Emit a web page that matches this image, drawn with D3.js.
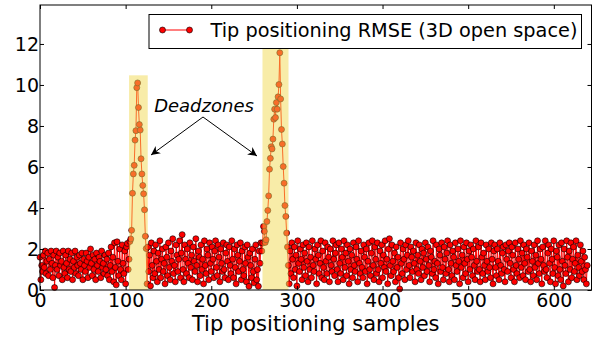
<!DOCTYPE html>
<html>
<head>
<meta charset="utf-8">
<script src="https://cdn.jsdelivr.net/npm/d3@7"></script>
<style>
  body { margin: 0; background: #fff; }
  svg text { font-family: "DejaVu Sans", sans-serif; fill: #000; }
</style>
</head>
<body>
<div id="chart"></div>
<script>
// RMSE samples, split by region
const noiseA = [1.6,0.5,1.2,0.9,1.7,1.1,1.9,0.8,1.4,1.8,0.7,1.5,1.0,1.9,1.3,0.6,1.7,0.12,1.2,1.9,
  1.0,1.6,0.7,1.8,1.2,1.4,0.5,1.9,1.1,0.8,1.7,1.3,0.6,1.9,1.0,1.5,0.9,1.8,0.5,1.4,
  1.1,1.9,0.8,1.6,1.2,0.7,1.7,1.3,1.0,1.8,0.5,1.5,1.2,0.9,1.8,1.4,0.6,1.6,1.1,2.0,
  1.3,0.7,1.7,1.0,1.5,0.5,1.8,1.2,0.9,1.6,1.4,0.6,1.9,1.1,1.3,0.8,1.7,1.0,1.5,0.7,
  1.8,0.5,1.2,2.1,0.9,1.6,0.4,2.3,1.1,0.25,2.35,1.4,0.7,2.0,1.0,0.5,2.2,1.3,0.8,1.9,0.3,2.1,2.27,1.0,1.5];
const dead1 = [2.37,2.49,2.91,4.72,5.66,6.08,7.31,7.77,9.87,10.1,8.9,8.07,7.8,6.4,5.66,5.1,4.69,3.91,2.62,2.02];
const noiseB = [0.3,2.1,0.9,1.7,0.2,2.3,1.2,0.6,1.9,0.8,2.2,1.4,0.4,1.8,1.0,2.4,0.6,1.5,2.0,0.9,
  1.3,0.3,2.1,1.6,0.7,2.3,1.1,0.5,1.9,1.4,2.5,0.8,1.2,0.4,2.2,1.7,0.9,1.5,2.4,0.6,
  1.8,2.7,1.0,0.4,2.2,1.5,0.8,2.0,1.3,0.6,2.3,1.1,1.7,0.5,2.1,1.4,0.9,2.5,1.2,0.4,
  1.9,1.6,0.7,2.2,1.0,1.5,0.3,2.4,1.2,0.8,2.0,1.7,0.5,2.3,1.3,0.9,2.1,1.5,0.6,1.9,
  2.4,1.1,0.7,2.2,1.6,0.4,2.0,1.3,0.9,2.3,1.0,0.6,1.8,2.2,1.4,0.5,2.1,1.2,0.8,2.4,
  1.5,0.6,2.0,1.1,0.3,2.2,1.7,0.9,1.4,2.3,0.5,1.9,1.0,0.7,2.1,1.3,0.4,2.2,1.6,0.18,
  1.8,1.2,0.6,2.0,0.9,0.35,1.5,2.2,0.5,1.0,0.18,1.9,1.3,2.3,1.9];
const dead2 = [2.29,3.1,2.86,2.32,2.45,3.34,3.88,4.59,5.89,6.42,6.99,6.88,7.36,8.33,8.82,8.41,9.14,8.82,9.42,10.02,
  11.57,9.32,7.83,7.12,6.02,5.21,4.12,3.59,2.78,2.1];
const noiseC = [1.2,0.3,1.9,0.8,2.3,1.5,0.6,2.1,1.0,1.7,0.2,2.4,1.3,0.9,2.0,1.5,0.5,2.2,1.1,1.8,
  0.7,2.3,1.4,0.4,2.1,1.0,1.6,0.6,2.4,1.2,0.9,2.0,1.5,0.3,2.2,1.7,0.8,1.3,2.4,0.6,
  1.9,1.1,0.5,2.3,1.4,0.8,2.1,1.6,0.4,2.0,1.2,0.9,2.4,1.5,0.7,1.8,2.2,1.0,0.4,2.3,
  1.3,0.8,2.0,1.6,0.5,2.4,1.1,1.8,0.7,2.2,1.4,0.3,2.0,1.0,1.7,0.6,2.3,1.2,0.9,2.1,
  1.5,0.4,2.4,1.3,0.8,1.9,1.1,0.6,2.2,1.6,0.9,2.0,0.3,1.4,2.3,1.0,0.7,1.8,2.4,1.2,
  0.5,2.1,1.5,0.8,2.3,1.0,0.4,1.9,1.3,2.2,0.6,1.7,1.1,2.4,0.9,1.5,0.3,2.0,2.5,1.2,
  0.7,2.2,1.4,0.9,1.8,0.4,2.1,1.1,1.6,0.6,0.05,2.3,1.3,0.8,2.0,1.5,0.5,2.2,1.0,1.7,
  2.4,1.2,0.6,2.1,1.6,0.9,1.9,1.3,0.4,2.3,1.0,1.7,0.8,2.2,1.4,0.5,2.0,1.1,1.8,0.7,
  2.3,1.5,0.9,2.1,1.2,0.4,1.9,1.6,0.8,2.4,1.0,1.4,0.6,2.2,1.3,0.3,2.0,1.7,0.9,2.3,
  1.1,0.5,2.1,1.5,0.8,1.8,2.4,1.0,0.4,2.2,1.3,0.7,1.9,1.6,0.5,2.3,1.2,0.9,2.0,1.4,
  0.3,2.4,1.1,1.7,0.6,2.1,1.3,0.8,2.3,1.5,0.4,1.9,1.0,2.2,1.6,0.7,2.0,1.2,0.5,2.4,
  1.4,0.9,2.1,1.0,0.4,2.3,1.6,0.8,1.8,1.2,0.5,2.2,1.4,0.9,2.0,1.1,0.6,2.3,1.5,0.3,
  1.9,2.2,1.1,0.7,2.0,1.4,0.5,2.3,1.2,0.8,1.8,2.1,1.0,0.4,2.2,1.5,0.9,1.9,2.3,1.3,
  0.6,2.1,1.7,1.0,0.4,2.3,1.2,0.8,2.0,1.5,0.6,2.4,1.1,1.8,0.7,2.2,1.3,0.5,2.0,1.6,
  0.9,2.3,1.0,0.4,1.9,1.4,0.7,2.2,1.1,1.7,0.5,2.4,1.3,0.8,2.0,1.5,0.3,2.1,1.2,0.9,
  2.4,1.0,0.6,1.8,2.2,1.3,0.4,2.0,1.5,0.8,2.4,1.1,0.3,1.9,1.6,0.7,2.2,1.0,0.5,2.3,
  1.4,0.2,2.0,1.2,0.8,2.4,1.6,0.4,1.9,1.0,2.3,0.6,1.5,2.1,0.9,1.3,2.4,0.5,1.7,1.1,
  0.7,2.2,1.4,0.9,1.9,0.5,1.6,1.0,0.3,1.2];

// shaded deadzone spans: start sample, end sample, top value
const deadzoneStart = [104, 259.8];
const deadzoneEnd = [125.8, 290.2];
const deadzoneTop = [10.47, 11.78];

const xTicks = [0, 100, 200, 300, 400, 500, 600];
const yTicks = [0, 2, 4, 6, 8, 10, 12];

const values = [].concat(noiseA, dead1, noiseB, dead2, noiseC);
const data = values.map((v, i) => ({ i: i, v: v }));

const width = 608, height = 338;
const plotLeft = 40, plotRight = 591.5, plotTop = 5, plotBottom = 290;

const svg = d3.select('#chart').append('svg')
  .attr('width', width).attr('height', height);

const x = d3.scaleLinear().domain([0, 644]).range([plotLeft, plotRight]);
const y = d3.scaleLinear().domain([0, 13.9]).range([plotBottom, plotTop]);

// line + markers
const line = d3.line().x(d => x(d.i)).y(d => y(d.v));
svg.append('path')
  .datum(data)
  .attr('d', line)
  .attr('fill', 'none')
  .attr('stroke', '#ff0000')
  .attr('stroke-width', 1);

svg.append('g')
  .selectAll('circle')
  .data(data)
  .join('circle')
  .attr('cx', d => x(d.i))
  .attr('cy', d => y(d.v))
  .attr('r', 3)
  .attr('fill', '#ff0000')
  .attr('stroke', '#000')
  .attr('stroke-width', 0.6);

// deadzone spans drawn over the data, semi transparent
svg.append('g')
  .selectAll('rect')
  .data(deadzoneStart.map((s, k) => ({ s: s, e: deadzoneEnd[k], t: deadzoneTop[k] })))
  .join('rect')
  .attr('x', d => x(d.s))
  .attr('width', d => x(d.e) - x(d.s))
  .attr('y', d => y(d.t))
  .attr('height', d => y(0) - y(d.t))
  .attr('fill', '#f1d951')
  .attr('opacity', 0.5);

// frame
svg.append('rect')
  .attr('x', plotLeft).attr('y', plotTop)
  .attr('width', plotRight - plotLeft).attr('height', plotBottom - plotTop)
  .attr('fill', 'none').attr('stroke', '#000').attr('stroke-width', 1);

// axes, ticks inward on all four sides
const tickFont = '19px';
const xb = svg.append('g').attr('transform', `translate(0,${plotBottom})`)
  .call(d3.axisBottom(x).tickValues(xTicks).tickSize(-4).tickPadding(3));
const xt = svg.append('g').attr('transform', `translate(0,${plotTop})`)
  .call(d3.axisTop(x).tickValues(xTicks).tickSize(-4).tickFormat(''));
const yl = svg.append('g').attr('transform', `translate(${plotLeft},0)`)
  .call(d3.axisLeft(y).tickValues(yTicks).tickSize(-4).tickPadding(1));
const yr = svg.append('g').attr('transform', `translate(${plotRight},0)`)
  .call(d3.axisRight(y).tickValues(yTicks).tickSize(-4).tickFormat(''));
[xb, xt, yl, yr].forEach(g => {
  g.select('.domain').remove();
  g.selectAll('.tick line').attr('stroke', '#000');
  g.selectAll('text').style('font-size', tickFont).style('font-family', '"DejaVu Sans", sans-serif');
});

svg.append('text')
  .attr('x', (plotLeft + plotRight) / 2).attr('y', 331)
  .attr('text-anchor', 'middle')
  .style('font-size', '21px')
  .text('Tip positioning samples');

// annotation
svg.append('defs').append('marker')
  .attr('id', 'arrowhead')
  .attr('viewBox', '0 0 10 10')
  .attr('refX', 10).attr('refY', 5)
  .attr('markerWidth', 9).attr('markerHeight', 9)
  .attr('markerUnits', 'userSpaceOnUse')
  .attr('orient', 'auto')
  .append('path')
  .attr('d', 'M0,0 L10,5 L0,10 L3,5 Z')
  .attr('fill', '#000');

svg.append('text')
  .attr('x', 204).attr('y', 112)
  .attr('text-anchor', 'middle')
  .style('font-size', '18px')
  .style('font-style', 'italic')
  .text('Deadzones');

const arrowFrom = [203, 117];
[[151, 155], [257, 156]].forEach(p => {
  svg.append('line')
    .attr('x1', arrowFrom[0]).attr('y1', arrowFrom[1])
    .attr('x2', p[0]).attr('y2', p[1])
    .attr('stroke', '#000').attr('stroke-width', 1)
    .attr('marker-end', 'url(#arrowhead)');
});

// legend
const lg = svg.append('g');
lg.append('rect')
  .attr('x', 149).attr('y', 14.5).attr('width', 432.5).attr('height', 34)
  .attr('fill', '#fff').attr('stroke', '#000').attr('stroke-width', 1);
lg.append('line')
  .attr('x1', 162.5).attr('x2', 189.5).attr('y1', 30).attr('y2', 30)
  .attr('stroke', '#ff0000').attr('stroke-width', 1);
[162.5, 189.5].forEach(cx => {
  lg.append('circle').attr('cx', cx).attr('cy', 30).attr('r', 3)
    .attr('fill', '#ff0000').attr('stroke', '#000').attr('stroke-width', 0.6);
});
lg.append('text')
  .attr('x', 210.5).attr('y', 37)
  .style('font-size', '19.3px')
  .text('Tip positioning RMSE (3D open space)');
</script>
</body>
</html>
